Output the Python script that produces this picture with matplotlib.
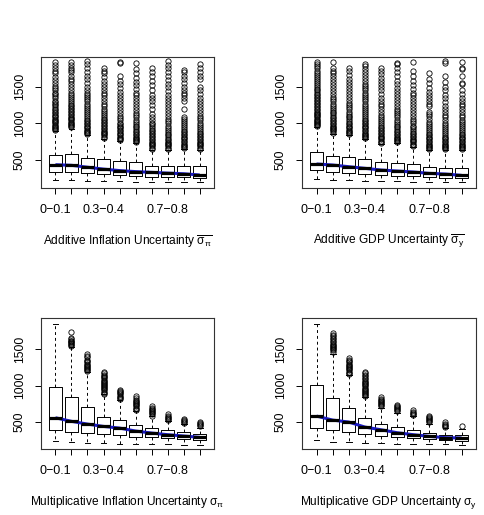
import matplotlib
matplotlib.use("Agg")
import matplotlib.pyplot as plt

plt.rcParams['font.family'] = ['Liberation Sans', 'DejaVu Sans']
plt.rcParams['mathtext.fontset'] = 'custom'
plt.rcParams['mathtext.rm'] = 'Liberation Sans'
plt.rcParams['mathtext.it'] = 'Liberation Sans'

# 10 groups per panel, only some tick labels are printed (like R drops overlapping ones)
positions = [1, 2, 3, 4, 5, 6, 7, 8, 9, 10]
tick_labels = ['0\u22120.1', '', '', '0.3\u22120.4', '', '', '', '0.7\u22120.8', '', '']

# --- Additive inflation uncertainty ---
ai_med = [436, 428, 402, 376, 356, 342, 332, 322, 313, 296]
ai_q1 = [341, 337, 319, 305, 296, 282, 273, 273, 273, 251]
ai_q3 = [568, 582, 531, 509, 486, 473, 423, 423, 423, 418]
ai_lo = [228, 225, 215, 212, 210, 205, 205, 200, 200, 200]
ai_hi = [890, 925, 840, 790, 760, 730, 640, 640, 650, 640]
ai_out = [
    [905, 920, 935, 950, 965, 980, 1000, 1015, 1030, 1050, 1065, 1080, 1100, 1120, 1140, 1160, 1180, 1200,
     1220, 1245, 1270, 1290, 1310, 1340, 1370, 1400, 1420, 1450, 1480, 1510, 1550, 1590, 1630, 1680, 1720,
     1760, 1800, 1840],
    [945, 960, 975, 990, 1005, 1020, 1040, 1060, 1075, 1090, 1110, 1130, 1150, 1170, 1190, 1210, 1230, 1250,
     1275, 1300, 1330, 1360, 1390, 1420, 1460, 1500, 1540, 1580, 1610, 1650, 1700, 1730, 1760, 1790, 1830],
    [855, 870, 885, 900, 915, 930, 950, 970, 990, 1010, 1030, 1050, 1075, 1100, 1125, 1150, 1180, 1210, 1240,
     1270, 1300, 1330, 1360, 1390, 1420, 1460, 1500, 1550, 1600, 1650, 1700, 1760, 1810, 1850],
    [805, 820, 835, 850, 865, 880, 900, 920, 940, 960, 980, 1000, 1020, 1040, 1065, 1090, 1115, 1140, 1170,
     1200, 1230, 1260, 1300, 1340, 1380, 1420, 1460, 1500, 1540, 1580, 1630, 1680, 1720, 1760],
    [775, 790, 805, 820, 835, 850, 870, 890, 910, 930, 950, 970, 990, 1010, 1040, 1070, 1100, 1140, 1180,
     1220, 1260, 1300, 1340, 1380, 1430, 1480, 1530, 1580, 1650, 1820, 1835],
    [745, 760, 775, 790, 805, 820, 840, 860, 880, 900, 920, 945, 970, 995, 1020, 1050, 1080, 1110, 1140,
     1180, 1220, 1260, 1300, 1340, 1380, 1420, 1470, 1520, 1570, 1620, 1680, 1740, 1820],
    [655, 670, 685, 700, 715, 730, 750, 770, 790, 810, 830, 850, 870, 890, 910, 935, 960, 985, 1010, 1040,
     1080, 1130, 1200, 1250, 1300, 1340, 1380, 1450, 1520, 1580, 1640, 1700, 1760],
    [655, 670, 685, 700, 715, 730, 750, 770, 790, 810, 835, 860, 885, 910, 940, 970, 1000, 1030, 1060, 1100,
     1140, 1180, 1220, 1260, 1300, 1340, 1390, 1440, 1490, 1540, 1590, 1640, 1700, 1750, 1800, 1850],
    [665, 680, 695, 710, 725, 740, 760, 780, 800, 820, 840, 860, 880, 900, 925, 950, 975, 1000, 1030, 1060,
     1090, 1200, 1300, 1340, 1380, 1420, 1460, 1500, 1550, 1600, 1650, 1700, 1730],
    [655, 670, 685, 700, 715, 730, 750, 770, 790, 810, 830, 850, 875, 900, 925, 950, 980, 1010, 1040, 1070,
     1100, 1140, 1180, 1220, 1260, 1300, 1350, 1400, 1450, 1500, 1600, 1650, 1700, 1750, 1810],
]

# --- Additive GDP uncertainty ---
ag_med = [446, 432, 409, 387, 364, 350, 337, 318, 309, 291]
ag_q1 = [364, 341, 323, 309, 296, 287, 278, 264, 259, 250]
ag_q3 = [609, 559, 537, 509, 468, 459, 441, 409, 395, 395]
ag_lo = [240, 230, 225, 220, 215, 210, 205, 200, 200, 195]
ag_hi = [945, 860, 840, 780, 720, 730, 680, 630, 630, 630]
ag_out = [
    [960, 975, 990, 1005, 1020, 1035, 1050, 1065, 1080, 1095, 1110, 1125, 1140, 1160, 1180, 1200, 1220, 1240,
     1260, 1280, 1300, 1320, 1340, 1360, 1380, 1400, 1425, 1450, 1475, 1500, 1525, 1550, 1575, 1600, 1630,
     1660, 1690, 1720, 1750, 1780, 1810, 1840],
    [875, 890, 905, 920, 935, 950, 970, 990, 1010, 1030, 1050, 1070, 1090, 1110, 1135, 1160, 1185, 1210,
     1240, 1270, 1300, 1330, 1360, 1400, 1440, 1480, 1520, 1560, 1600, 1640, 1680, 1720, 1760, 1830],
    [855, 870, 885, 900, 915, 930, 950, 970, 990, 1010, 1030, 1055, 1080, 1105, 1130, 1160, 1190, 1220,
     1250, 1280, 1320, 1360, 1400, 1440, 1480, 1520, 1560, 1610, 1660, 1710, 1760],
    [795, 810, 825, 840, 855, 870, 890, 910, 930, 950, 970, 990, 1010, 1030, 1050, 1075, 1100, 1125, 1150,
     1180, 1210, 1240, 1270, 1300, 1330, 1360, 1390, 1420, 1450, 1480, 1510, 1540, 1580, 1620, 1660, 1700,
     1740, 1780, 1810],
    [735, 750, 765, 780, 795, 810, 830, 850, 870, 890, 910, 930, 955, 980, 1005, 1030, 1060, 1090, 1120,
     1150, 1190, 1230, 1270, 1310, 1350, 1400, 1450, 1500, 1540, 1580, 1620, 1670, 1710, 1750],
    [745, 760, 775, 790, 805, 820, 840, 860, 880, 900, 920, 945, 970, 995, 1020, 1050, 1080, 1110, 1140,
     1170, 1200, 1240, 1280, 1320, 1360, 1400, 1440, 1480, 1530, 1580, 1640, 1700, 1760, 1810, 1825],
    [695, 710, 725, 740, 755, 770, 790, 810, 830, 850, 870, 895, 920, 945, 970, 1000, 1030, 1060, 1100,
     1140, 1180, 1220, 1260, 1300, 1340, 1380, 1420, 1470, 1520, 1580, 1650, 1710, 1830],
    [645, 660, 675, 690, 705, 720, 740, 760, 780, 800, 820, 840, 860, 880, 905, 930, 960, 990, 1020, 1060,
     1100, 1130, 1160, 1230, 1260, 1300, 1340, 1390, 1430, 1480, 1550, 1600, 1690],
    [645, 660, 675, 690, 705, 720, 740, 760, 780, 800, 820, 845, 870, 895, 920, 950, 980, 1010, 1040, 1080,
     1120, 1160, 1200, 1240, 1290, 1340, 1390, 1450, 1500, 1560, 1640, 1820, 1850],
    [645, 660, 675, 690, 705, 720, 740, 760, 780, 800, 820, 840, 860, 885, 910, 935, 960, 990, 1020, 1050,
     1080, 1110, 1150, 1190, 1230, 1270, 1310, 1350, 1400, 1450, 1530, 1550, 1650, 1740, 1760, 1830],
]

# --- Multiplicative inflation uncertainty ---
mi_med = [559, 510, 472, 440, 417, 376, 349, 326, 308, 290]
mi_q1 = [386, 358, 349, 331, 321, 298, 290, 276, 266, 257]
mi_q3 = [977, 848, 702, 569, 527, 455, 413, 386, 367, 339]
mi_lo = [243, 225, 215, 207, 202, 202, 202, 193, 190, 188]
mi_hi = [1848, 1530, 1190, 880, 810, 655, 580, 515, 475, 420]
mi_out = [
    [],
    [1545, 1560, 1575, 1590, 1600, 1610, 1620, 1640, 1660, 1738],
    [1200, 1215, 1230, 1245, 1260, 1275, 1290, 1305, 1320, 1340, 1360, 1390, 1415, 1440],
    [890, 905, 920, 935, 950, 965, 980, 995, 1010, 1025, 1040, 1055, 1070, 1085, 1100, 1115, 1130, 1150,
     1170, 1195],
    [820, 835, 850, 865, 880, 895, 910, 925, 935],
    [670, 685, 700, 715, 730, 745, 760, 775, 790, 810, 830, 860],
    [590, 605, 620, 635, 650, 665, 680, 700, 720],
    [530, 545, 560, 575, 590, 605],
    [485, 500, 515, 530, 545],
    [440, 455, 470, 485, 500],
]

# --- Multiplicative GDP uncertainty ---
mg_med = [582, 527, 500, 431, 394, 353, 326, 303, 285, 281]
mg_q1 = [422, 394, 362, 335, 307, 294, 280, 262, 253, 246]
mg_q3 = [1011, 830, 697, 555, 477, 436, 395, 350, 322, 317]
mg_lo = [257, 230, 225, 215, 206, 204, 200, 195, 193, 190]
mg_hi = [1848, 1440, 1150, 840, 700, 630, 590, 480, 420, 410]
mg_out = [
    [],
    [1470, 1485, 1500, 1515, 1530, 1545, 1560, 1580, 1600, 1620, 1640, 1660, 1680, 1700, 1720],
    [1165, 1180, 1195, 1210, 1225, 1240, 1255, 1270, 1285, 1300, 1320, 1340, 1360, 1380],
    [855, 870, 885, 900, 915, 930, 945, 960, 975, 990, 1005, 1020, 1035, 1050, 1070, 1090, 1110, 1130,
     1150, 1170, 1190],
    [715, 730, 745, 760, 775, 790, 805, 820, 840],
    [650, 665, 680, 695, 710, 725, 740],
    [600, 615, 630, 645, 660],
    [495, 510, 525, 540, 555, 570, 580],
    [435, 450, 465, 480, 495],
    [440],
]

xlabels = [
    r'Additive Inflation Uncertainty $\overline{\sigma_{\pi}}$',
    r'Additive GDP Uncertainty $\overline{\sigma_{y}}$',
    r'Multiplicative Inflation Uncertainty $\sigma_{\pi}$',
    r'Multiplicative GDP Uncertainty $\sigma_{y}$',
]

panels = [
    (ai_med, ai_q1, ai_q3, ai_lo, ai_hi, ai_out),
    (ag_med, ag_q1, ag_q3, ag_lo, ag_hi, ag_out),
    (mi_med, mi_q1, mi_q3, mi_lo, mi_hi, mi_out),
    (mg_med, mg_q1, mg_q3, mg_lo, mg_hi, mg_out),
]

# axes rectangles in figure fractions (left, bottom, width, height)
rects = [
    (0.0845, 0.635, 0.357, 0.2544),
    (0.6227, 0.635, 0.359, 0.2544),
    (0.0845, 0.128, 0.357, 0.2544),
    (0.6227, 0.128, 0.359, 0.2544),
]
ylims = [(119, 1905), (119, 1905), (128, 1931), (128, 1931)]

fig = plt.figure(figsize=(4.85, 5.15), dpi=100)

for (med, q1, q3, lo, hi, out), rect, ylim, xlab in zip(panels, rects, ylims, xlabels):
    ax = fig.add_axes(rect)
    stats = []
    for i in range(len(positions)):
        stats.append(dict(med=med[i], q1=q1[i], q3=q3[i], whislo=lo[i], whishi=hi[i], fliers=out[i]))
    ax.bxp(stats, positions=positions, widths=0.8, capwidths=0.36, showfliers=True,
           boxprops=dict(color='black', linewidth=0.7),
           whiskerprops=dict(color='black', linewidth=0.7, linestyle=(0, (3, 3))),
           capprops=dict(color='black', linewidth=0.7),
           medianprops=dict(color='black', linewidth=2.3, solid_capstyle='butt'),
           flierprops=dict(marker='o', markerfacecolor='none', markeredgecolor='black',
                           markersize=3.8, markeredgewidth=0.6, linestyle='none'))
    # blue line through the medians
    ax.plot(positions, med, color='#1c1cc4', linewidth=2.2, solid_capstyle='butt')

    ax.set_xlim(0.1, 10.9)
    ax.set_ylim(*ylim)
    ax.set_xticks(positions)
    ax.set_xticklabels(tick_labels, fontsize=9)
    ax.set_yticks([500, 1000, 1500])
    ax.set_yticklabels(['500', '1000', '1500'], fontsize=8.8, rotation=90, va='center')
    ax.tick_params(axis='both', direction='out', length=4.5, width=0.7, color='black')
    ax.tick_params(axis='x', pad=7)
    ax.tick_params(axis='y', pad=6.5)
    for sp in ax.spines.values():
        sp.set_linewidth(0.8)
        sp.set_color('#333333')
    ax.set_xlabel(xlab, fontsize=8.6, labelpad=12)

fig.savefig('out.png', dpi=100)
